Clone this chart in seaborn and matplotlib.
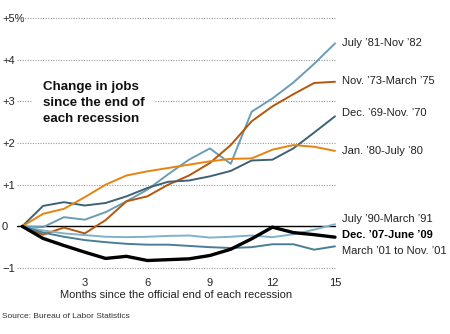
import matplotlib
matplotlib.use("Agg")
import matplotlib.pyplot as plt
import seaborn as sns
import pandas as pd

# ---------------- data ----------------
months = list(range(16))
series_names = ["July ’81-Nov ’82", "Nov. ’73-March ’75", "Dec. ’69-Nov. ’70",
                "Jan. ’80-July ’80", "July ’90-March ’91", "March ’01 to Nov. ’01",
                "Dec. ’07-June ’09"]
jul81 = [0, -0.02, 0.22, 0.16, 0.34, 0.60, 0.88, 1.25, 1.60, 1.87, 1.50, 2.75, 3.07, 3.45, 3.90, 4.39]
nov73 = [0, -0.20, -0.03, -0.17, 0.15, 0.60, 0.72, 1.00, 1.22, 1.52, 1.95, 2.52, 2.88, 3.17, 3.44, 3.47]
dec69 = [0, 0.49, 0.58, 0.50, 0.56, 0.72, 0.92, 1.07, 1.10, 1.20, 1.33, 1.58, 1.60, 1.87, 2.25, 2.64]
jan80 = [0, 0.30, 0.42, 0.70, 1.00, 1.22, 1.32, 1.40, 1.48, 1.56, 1.62, 1.63, 1.84, 1.95, 1.91, 1.81]
jul90 = [0, -0.10, -0.17, -0.21, -0.25, -0.26, -0.25, -0.23, -0.22, -0.27, -0.25, -0.22, -0.26, -0.19, -0.08, 0.05]
mar01 = [0, -0.15, -0.25, -0.33, -0.38, -0.42, -0.44, -0.44, -0.47, -0.50, -0.52, -0.50, -0.43, -0.43, -0.56, -0.48]
dec07 = [0, -0.29, -0.46, -0.62, -0.77, -0.72, -0.82, -0.80, -0.78, -0.70, -0.55, -0.30, -0.02, -0.15, -0.20, -0.26]
series_values = [jul81, nov73, dec69, jan80, jul90, mar01, dec07]

y_ticks = [-1, 0, 1, 2, 3, 4, 5]
y_tick_labels = ["−1", "0", "+1", "+2", "+3", "+4", "+5%"]
x_ticks = list(range(1, 16))
x_tick_labels = [str(m) if m % 3 == 0 else "" for m in x_ticks]
title_text = "Change in jobs\nsince the end of\neach recession"
x_label = "Months since the official end of each recession"
source_text = "Source: Bureau of Labor Statistics"

# ---------------- styling ----------------
colors = ["#6a9db5", "#b5560a", "#3e6275", "#e8830f", "#7fb2cb", "#4a7e97", "#000000"]
widths = [1.4, 1.4, 1.4, 1.4, 1.4, 1.4, 2.4]
label_y = [4.39, 3.50, 2.71, 1.80, 0.17, -0.58, -0.22]

rows = []
for name, vals in zip(series_names, series_values):
    for m, v in zip(months, vals):
        rows.append({"month": m, "value": v, "series": name})
df = pd.DataFrame(rows)

sns.set_style("white")
plt.rcParams["font.family"] = ["Liberation Sans", "DejaVu Sans"]

fig = plt.figure(figsize=(4.5, 3.34), dpi=100)
ax = fig.add_axes([17 / 450, 1 - 268 / 334, (335 - 17) / 450, (268 - 18) / 334])

for yv in y_ticks:
    if yv == 0:
        continue
    ax.axhline(yv, color="#9a9a9a", lw=0.8, linestyle=(0, (1, 1.3)), zorder=1, clip_on=False)
ax.axhline(0, color="black", lw=1.0, zorder=1.5)

sns.lineplot(data=df, x="month", y="value", hue="series", size="series",
             hue_order=series_names, size_order=series_names,
             palette=dict(zip(series_names, colors)),
             sizes=dict(zip(series_names, widths)),
             legend=False, ax=ax, zorder=3)
for ln in ax.get_lines():
    ln.set_clip_on(False)

ax.set_xlim(-0.25, 15)
ax.set_ylim(-1, 5)
for s in ax.spines.values():
    s.set_visible(False)

ax.set_yticks(y_ticks)
ax.set_yticklabels(y_tick_labels, fontsize=8, color="#222222")
ax.tick_params(axis="y", length=0, pad=10.8)
for lbl in ax.get_yticklabels():
    lbl.set_horizontalalignment("left")
    lbl.set_bbox(dict(facecolor="white", edgecolor="none", pad=1.5))

ax.set_xticks(x_ticks)
ax.set_xticklabels(x_tick_labels, fontsize=8, color="#222222")
ax.tick_params(axis="x", length=5, width=0.8, color="#555555", pad=2.5, direction="out")
ax.set_xlabel(x_label, fontsize=8, color="#222222", labelpad=1.5)
ax.set_ylabel("")

for name, ly, c in zip(series_names, label_y, colors):
    bold = name.startswith("Dec. ’07")
    ax.text(15.35, ly, name, fontsize=8, va="center", ha="left",
            color="black" if bold else "#222222",
            fontweight="bold" if bold else "normal", clip_on=False)

ax.text(1.0, 3.50, title_text, fontsize=9.6, fontweight="bold", color="#111111",
        va="top", ha="left", linespacing=1.45,
        bbox=dict(facecolor="white", edgecolor="none", boxstyle="square,pad=0.8"), zorder=4)

fig.text(2 / 450, 1 - 317 / 334, source_text, fontsize=6, color="#333333", va="center", ha="left")

fig.savefig("out.png", dpi=100)
